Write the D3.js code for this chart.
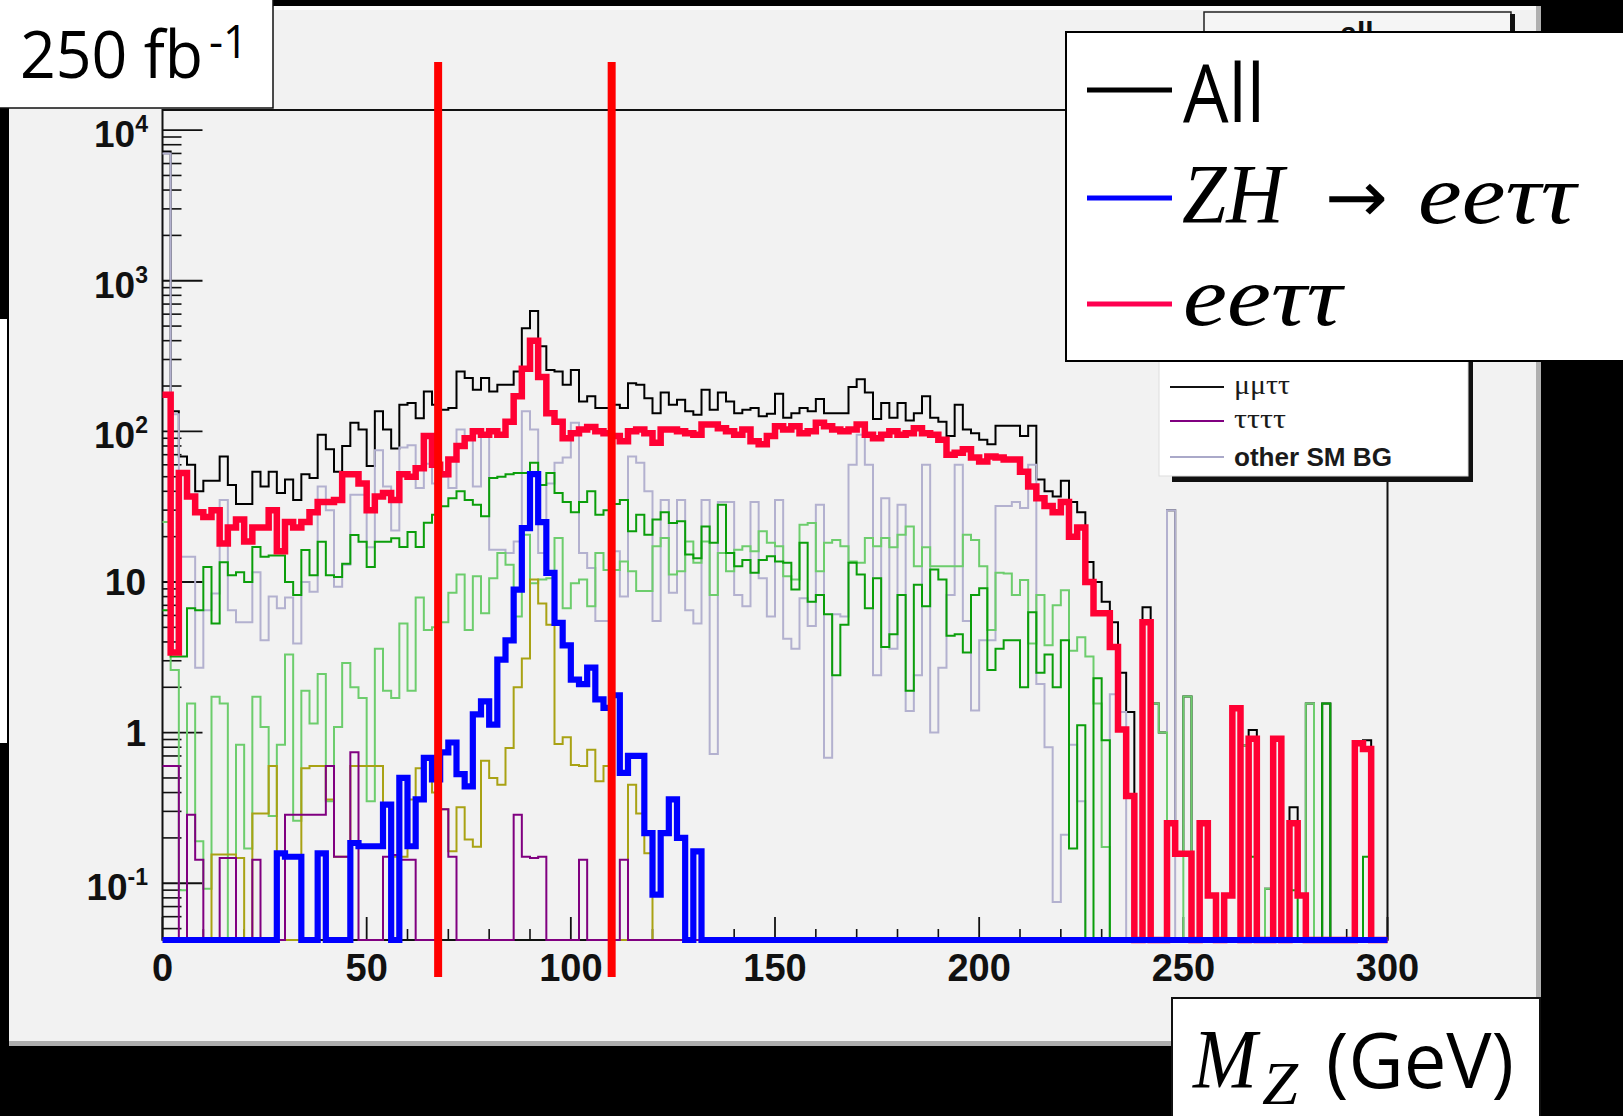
<!DOCTYPE html>
<html>
<head>
<meta charset="utf-8">
<script src="https://cdn.jsdelivr.net/npm/d3@7/dist/d3.min.js"></script>
<style>
html,body{margin:0;padding:0;background:#000;overflow:hidden;}
svg{display:block;}
</style>
</head>
<body>
<svg id="chart" width="1623" height="1116"></svg>
<script>
// ---------------- DATA (2 GeV bins, 0-300 GeV) ----------------
const BIN_W = 2;
const binLow = d3.range(0, 300, BIN_W);

const allBkg = [
 7200,136,68,60,40,47,47,68,44,33,
 33,54,43,54,39,48,35,52,49,95,
 76,54,80,114,103,59,136,103,77,150,
 154,122,184,150,139,143,250,226,189,226,
 184,204,204,250,484,630,368,256,250,204,
 256,158,171,143,143,150,143,209,204,166,
 132,181,150,162,136,129,189,139,181,158,
 132,139,143,126,131,178,123,132,143,136,
 164,132,132,132,197,222,181,121,154,123,
 154,118,132,171,123,116,93,150,103,97,
 88,82,109,109,109,93,109,48,40,37,
 47,34,29,13.6,10,7.4,5.4,2.5,1.37,0,
 6.8,1.56,1.0,30,0.16,1.74,0,0.25,0.083,0,
 0.083,1.45,0.82,1.04,0,0.092,0.91,0,0.32,0.083,
 1.56,0,1.56,0,0,0,0.85,0.89,0,0
];

const eett = [
 175,3.4,53,37,29,27,30,18,23,26,
 18.6,23,23,30,16,25,23,25,29,34,
 34,35,52,52,45,30,37,39,35,52,
 50,57,93,60,52,65,80,90,100,95,
 100,95,116,171,260,400,230,132,116,90,
 97,103,107,100,97,93,86,100,103,97,
 84,103,103,100,97,95,111,111,105,100,
 95,103,86,82,93,108,103,108,97,100,
 114,108,103,100,103,111,95,90,95,100,
 95,97,105,97,95,88,70,72,76,67,
 63,68,67,65,65,54,43,36,32,29,
 34,20,23,10,6.2,6.2,3.7,1.05,0.38,0,
 5.4,0,0,0.25,0.157,0.157,0,0.25,0.083,0,
 0.083,1.45,0,0.91,0,0,0.91,0,0.25,0.083,
 0,0,0,0,0,0,0.85,0.78,0,0
];

const zhEett = [
 0,0,0,0,0,0,0,0,0,0,
 0,0,0,0,0.158,0.15,0.15,0,0,0.158,
 0,0,0,0.185,0.176,0.176,0.176,0.333,0,0.5,
 0.176,0.36,0.68,0.49,0.74,0.86,0.53,0.44,1.32,1.61,
 1.13,3.05,4.1,8.9,22.8,52,25,11.5,5.35,3.8,
 2.25,2.1,2.7,1.66,1.46,1.77,0.54,0.7,0.7,0.215,
 0.084,0.215,0.36,0.2,0,0.163,0,0,0,0,
 0,0,0,0,0,0,0,0,0,0,
 0,0,0,0,0,0,0,0,0,0,
 0,0,0,0,0,0,0,0,0,0,
 0,0,0,0,0,0,0,0,0,0,
 0,0,0,0,0,0,0,0,0,0,
 0,0,0,0,0,0,0,0,0,0,
 0,0,0,0,0,0,0,0,0,0,
 0,0,0,0,0,0,0,0,0,0
];

const darkGreen = [
 6.5,3.2,3.2,6.7,6.5,12.6,5.3,13.5,11.1,11.6,
 10,17.1,14.7,15,15,10,8.2,16.3,11.1,18.5,
 11.1,10.8,13.2,20.5,18.5,12.6,18.5,18.5,19.5,17.1,
 21.5,17.1,24.7,28,31.8,36,40,35,32.6,27.3,
 49,50,52,53,53,62,44,53,39,34,
 29,34,40,28,30,33,35,21.7,28,20.6,
 26,29,24.6,25.3,15.2,14.4,23.4,18.2,32.6,15.6,
 12.7,14,11.5,14,14.8,13.7,13.4,8.9,18.2,7.4,
 8.2,6.1,2.4,5.2,13.4,11.2,6.7,10.6,3.7,4.5,
 8.2,1.9,9.6,6.9,12.1,10.4,4.4,4.5,3.4,8.2,
 9.1,2.6,3.6,4.1,4.1,2.0,6.3,2.5,3.3,2.0,
 4.1,0.17,1.12,0,2.3,0.89,0,0,0,0,
 0,0,0,0,0,0,0,0,0,0,
 0,0,0,0.15,0,0,0,0,0.09,0,
 0,0,1.56,0,0,0,0,0.15,0,0
];

const lightGreen = [
 25,2.6,0.09,1.56,0.19,0.092,1.73,1.56,0,0.83,
 0.17,1.73,1.09,0.28,0.83,3.3,0.26,1.9,1.15,2.45,
 0.35,1.09,2.9,2.0,1.7,0.35,3.6,1.9,1.7,5.3,
 1.9,7.9,4.8,5,5.4,8.5,11.2,4.8,10.9,6.2,
 10.6,15.6,13,5.9,20.6,9.8,10.4,10.6,19.6,6.7,
 9.8,10.4,6.9,15.6,12,12,13.7,11.8,8.7,8.7,
 17.3,19.6,11.2,11.8,18.6,13.4,18.6,8.2,15.6,11.8,
 16.4,17.3,16,21.7,18.2,17.3,10.9,10.4,24,24.6,
 11.8,18.2,19,17.3,13.7,13.4,19.6,17.3,19.6,17,
 20.6,23.4,12.7,17,12.7,12.7,12.7,12.7,20.6,19,
 12.7,4.8,11.5,11.4,8.2,10.3,3.9,8.2,3.8,7.0,
 8.8,3.5,4.3,3.2,1.56,0.174,0,0,0,0,
 0,1.56,1.0,0,0,1.74,0,0,0,0,
 0,0,0.82,0,0,0.092,0,0,0,0,
 1.56,0,0,0,0,0,0,0,0,0
];

const otherSM = [
 7000,130,14.7,14.7,2.7,6.5,8.4,35,6.5,5.4,
 5.4,11.6,4.1,8.0,6.7,7.9,3.9,10,8.6,43,
 30,9.3,13,38,38,17,75,43,22,78,
 81,42,61,45,50,42,103,88,43,97,
 16.4,16.4,15.6,18.6,136,103,15.6,45,62,67,
 114,15.6,12.4,5.5,5.5,16,8.0,68,62,40,
 5.5,35,8.5,35,6.5,5.3,35,0.72,34,34,
 8.2,6.9,34,10.6,5.9,35,4.2,3.6,7.8,5.1,
 32.6,0.68,6.1,5.9,60,95,60,2.4,36,3.6,
 32.6,1.39,2.4,60,1.0,2.7,8.2,60,5.5,1.4,
 4.1,4.1,32,32,34,31,60,2.1,0.8,0.075,
 0.21,0.83,0.35,0,0,0,1.8,1.37,0,0,
 0,0,0,30,0,0,0,0,0,0,
 0,0,0,0,0,0,0,0,0,0,
 0,0,0,0,0,0,0,0,0,0
];

const olive = [
 0,0,0,0,0,0,0.155,0.155,0.155,0.147,
 0,0.29,0.29,0.6,0,0,0,0.58,0.6,0.6,
 0.36,0.15,0.15,0.6,0.6,0.6,0.6,0.34,0.15,0.15,
 0.36,0.58,0.66,0.4,0.31,0.163,0.32,0.195,0.175,0.65,
 0.5,0.45,0.79,2.0,3.1,10.4,7.2,5.2,0.84,0.93,
 0.61,0.6,0.77,0.476,0.6,0,0,0.45,0.29,0.158,
 0,0,0,0,0,0,0,0,0,0,
 0,0,0,0,0,0,0,0,0,0,
 0,0,0,0,0,0,0,0,0,0,
 0,0,0,0,0,0,0,0,0,0,
 0,0,0,0,0,0,0,0,0,0,
 0,0,0,0,0,0,0,0,0,0,
 0,0,0,0,0,0,0,0,0,0,
 0,0,0,0,0,0,0,0,0,0,
 0,0,0,0,0,0,0,0,0,0
];

const tttt = [
 0.6,0.6,0,0.285,0.143,0,0,0.147,0.147,0,
 0,0.143,0,0,0,0.285,0.285,0.285,0.285,0.285,
 0.6,0.15,0.15,0.74,0,0,0,0.15,0.154,0.143,
 0.143,0,0,0,0.31,0.15,0,0,0,0,
 0,0,0,0.285,0.15,0.147,0.15,0,0,0,
 0,0.143,0,0,0,0,0.143,0,0,0,
 0,0,0,0,0,0,0,0,0,0,
 0,0,0,0,0,0,0,0,0,0,
 0,0,0,0,0,0,0,0,0,0,
 0,0,0,0,0,0,0,0,0,0,
 0,0,0,0,0,0,0,0,0,0,
 0,0,0,0,0,0,0,0,0,0,
 0,0,0,0,0,0,0,0,0,0,
 0,0,0,0,0,0,0,0,0,0,
 0,0,0,0,0,0,0,0,0,0
];

const cutValues = [67.5, 110];
const xMajorTicks = [0, 50, 100, 150, 200, 250, 300];
const xTickLabels = ["0", "50", "100", "150", "200", "250", "300"];
const yMajorTicks = [0.1, 1, 10, 100, 1000, 10000];
const yTickBase = ["10", "1", "10", "10", "10", "10"];
const yTickSup = ["-1", "", "", "2", "3", "4"];
const rootLegendLabels = ["\u03bc\u03bc\u03c4\u03c4", "\u03c4\u03c4\u03c4\u03c4", "other SM BG"];
const Y_MIN = 0.042, Y_MAX = 13600;

// ---------------- SCALES ----------------
const W = 1623, H = 1116;
const frame = {l: 162.5, r: 1387.5, t: 110, b: 940};
const x = d3.scaleLinear().domain([0, 300]).range([frame.l, frame.r]);
const y = d3.scaleLog().domain([Y_MIN, Y_MAX]).range([frame.b, frame.t]);

const svg = d3.select('#chart');
const FONT_CAL = "'Open Sans','Noto Sans',sans-serif";
const FONT_MATH = "'Liberation Serif','DejaVu Serif',serif";
const FONT_ROOT = "'Liberation Sans',Arial,sans-serif";

// ---------------- BACKGROUND ----------------
svg.append('rect').attr('width', W).attr('height', H).attr('fill', '#000');
svg.append('rect').attr('x', 9).attr('y', 6).attr('width', 1532).attr('height', 1040).attr('fill', '#f2f2f2');
svg.append('rect').attr('x', 9).attr('y', 6).attr('width', 1532).attr('height', 4).attr('fill', '#fbfbfb');
svg.append('rect').attr('x', 1536).attr('y', 6).attr('width', 5).attr('height', 1040).attr('fill', '#b0b0b0');
svg.append('rect').attr('x', 9).attr('y', 1041).attr('width', 1532).attr('height', 5).attr('fill', '#adadad');
svg.append('rect').attr('x', 0).attr('y', 319).attr('width', 7).attr('height', 424).attr('fill', '#fff');

// ---------------- FRAME & AXES ----------------
const g = svg.append('g');
g.append('rect').attr('x', frame.l).attr('y', frame.t)
  .attr('width', frame.r - frame.l).attr('height', frame.b - frame.t)
  .attr('fill', 'none').attr('stroke', '#111').attr('stroke-width', 2);

const yMinor = [];
for (let d = -2; d <= 4; d++) for (let m = 2; m <= 9; m++) {
  const v = m * Math.pow(10, d);
  if (v > Y_MIN && v < Y_MAX) yMinor.push(v);
}
g.selectAll('.ymin').data(yMinor).enter().append('line')
  .attr('x1', frame.l).attr('x2', frame.l + 19)
  .attr('y1', d => y(d)).attr('y2', d => y(d))
  .attr('stroke', '#111').attr('stroke-width', 1.6);
g.selectAll('.ymaj').data(yMajorTicks).enter().append('line')
  .attr('x1', frame.l).attr('x2', frame.l + 40)
  .attr('y1', d => y(d)).attr('y2', d => y(d))
  .attr('stroke', '#111').attr('stroke-width', 1.8);

const xMinor = d3.range(0, 301, 10).filter(v => v % 50 !== 0);
g.selectAll('.xmin').data(xMinor).enter().append('line')
  .attr('x1', d => x(d)).attr('x2', d => x(d))
  .attr('y1', frame.b).attr('y2', frame.b - 11)
  .attr('stroke', '#111').attr('stroke-width', 1.6);
g.selectAll('.xmaj').data(xMajorTicks).enter().append('line')
  .attr('x1', d => x(d)).attr('x2', d => x(d))
  .attr('y1', frame.b).attr('y2', frame.b - 23)
  .attr('stroke', '#111').attr('stroke-width', 1.8);

g.selectAll('.xlab').data(xMajorTicks).enter().append('text')
  .attr('x', d => x(d)).attr('y', 981)
  .attr('text-anchor', 'middle')
  .attr('font-family', FONT_ROOT).attr('font-weight', 'bold').attr('font-size', 38)
  .attr('fill', '#111')
  .text((d, i) => xTickLabels[i]);

yMajorTicks.forEach((v, i) => {
  const hasSup = yTickSup[i] !== "";
  const t = g.append('text')
    .attr('x', hasSup ? 148 : 146).attr('y', y(v) + (hasSup ? 17 : 13))
    .attr('text-anchor', 'end')
    .attr('font-family', FONT_ROOT).attr('font-weight', 'bold').attr('font-size', 37)
    .attr('fill', '#111');
  t.append('tspan').text(yTickBase[i]);
  if (hasSup) t.append('tspan').attr('font-size', 23).attr('dy', -15).text(yTickSup[i]);
});

// ---------------- HISTOGRAMS ----------------
function stepPoints(vals) {
  const pts = [];
  vals.forEach((v, i) => {
    const yy = y(Math.max(v, Y_MIN));
    pts.push([x(binLow[i]), yy], [x(binLow[i] + BIN_W), yy]);
  });
  return pts;
}
const line = d3.line();
const series = [
  {vals: allBkg,     color: '#000000', w: 2},
  {vals: otherSM,    color: '#b3b1cf', w: 2},
  {vals: lightGreen, color: '#6dcd6d', w: 2},
  {vals: darkGreen,  color: '#0b9e0b', w: 2},
  {vals: olive,      color: '#a9a214', w: 2},
  {vals: tttt,       color: '#800080', w: 2},
  {vals: eett,       color: '#ff0033', w: 6.5},
  {vals: zhEett,     color: '#0000ff', w: 6.2}
];
const hg = svg.append('g');
series.forEach(s => {
  hg.append('path').attr('d', line(stepPoints(s.vals)))
    .attr('fill', 'none').attr('stroke', s.color).attr('stroke-width', s.w)
    .attr('stroke-linejoin', 'miter');
});

svg.selectAll('.cut').data(cutValues).enter().append('line')
  .attr('x1', d => x(d)).attr('x2', d => x(d))
  .attr('y1', 62).attr('y2', 977)
  .attr('stroke', '#ff0000').attr('stroke-width', 8);

// ---------------- ROOT title box ----------------
svg.append('rect').attr('x', 1204).attr('y', 12).attr('width', 307).attr('height', 40)
  .attr('fill', '#f5f5f5').attr('stroke', '#222').attr('stroke-width', 1.5);
svg.append('rect').attr('x', 1510).attr('y', 14).attr('width', 5).attr('height', 40).attr('fill', '#111');
svg.append('text').attr('x', 1357).attr('y', 43).attr('text-anchor', 'middle')
  .attr('font-family', FONT_ROOT).attr('font-weight', 'bold').attr('font-size', 30)
  .attr('fill', '#111').text('all');

// ---------------- ROOT legend ----------------
svg.append('rect').attr('x', 1172).attr('y', 300).attr('width', 301).attr('height', 182).attr('fill', '#111');
svg.append('rect').attr('x', 1159).attr('y', 296).attr('width', 309).attr('height', 180)
  .attr('fill', '#fff').attr('stroke', '#ddd').attr('stroke-width', 1);
const rootLegColors = ['#111', '#800080', '#aaa9c9'];
const rootLegY = [387, 421, 457];
const rootLegW = [56, 52, 158];
rootLegendLabels.forEach((lab, i) => {
  svg.append('line').attr('x1', 1170).attr('x2', 1224).attr('y1', rootLegY[i]).attr('y2', rootLegY[i])
    .attr('stroke', rootLegColors[i]).attr('stroke-width', 2);
  const t = svg.append('text').attr('x', 1234).attr('fill', '#1a1a1a')
    .attr('textLength', rootLegW[i]).attr('lengthAdjust', 'spacingAndGlyphs').text(lab);
  if (i < 2) {
    t.attr('y', rootLegY[i] + 7).attr('font-family', FONT_MATH).attr('font-size', 27);
  } else {
    t.attr('y', rootLegY[i] + 9).attr('font-family', FONT_ROOT).attr('font-weight', 'bold')
      .attr('font-size', 25);
  }
});

// ---------------- Big legend ----------------
svg.append('rect').attr('x', 1066).attr('y', 32).attr('width', 570).attr('height', 329)
  .attr('fill', '#fff').attr('stroke', '#000').attr('stroke-width', 2);
const bigLeg = [
  {y: 90, color: '#000000'},
  {y: 198, color: '#0000ff'},
  {y: 304, color: '#ff0050'}
];
bigLeg.forEach(e => {
  svg.append('line').attr('x1', 1087).attr('x2', 1172).attr('y1', e.y).attr('y2', e.y)
    .attr('stroke', e.color).attr('stroke-width', 5);
});
svg.append('text').attr('x', 1183).attr('y', 122)
  .attr('font-family', FONT_CAL).attr('font-size', 80)
  .attr('textLength', 82).attr('lengthAdjust', 'spacingAndGlyphs').attr('fill', '#000').text('All');
svg.append('text').attr('x', 1182).attr('y', 223)
  .attr('font-family', FONT_MATH).attr('font-style', 'italic').attr('font-size', 84)
  .attr('textLength', 102).attr('lengthAdjust', 'spacingAndGlyphs').attr('fill', '#000').text('ZH');
svg.append('text').attr('x', 1325).attr('y', 222)
  .attr('font-family', "'DejaVu Sans',sans-serif").attr('font-size', 72)
  .attr('textLength', 63).attr('lengthAdjust', 'spacingAndGlyphs').attr('fill', '#000').text('\u2192');
svg.append('text').attr('x', 1418).attr('y', 223)
  .attr('font-family', FONT_MATH).attr('font-style', 'italic').attr('font-size', 84)
  .attr('textLength', 158).attr('lengthAdjust', 'spacingAndGlyphs').attr('fill', '#000').text('ee\u03c4\u03c4');
svg.append('text').attr('x', 1183).attr('y', 325)
  .attr('font-family', FONT_MATH).attr('font-style', 'italic').attr('font-size', 84)
  .attr('textLength', 159).attr('lengthAdjust', 'spacingAndGlyphs').attr('fill', '#000').text('ee\u03c4\u03c4');

// ---------------- 250 fb-1 box ----------------
svg.append('rect').attr('x', -2).attr('y', -2).attr('width', 275).attr('height', 110)
  .attr('fill', '#fff').attr('stroke', '#111').attr('stroke-width', 1.5);
svg.append('text').attr('x', 20).attr('y', 78)
  .attr('font-family', FONT_CAL).attr('font-size', 66)
  .attr('textLength', 183).attr('lengthAdjust', 'spacingAndGlyphs').attr('fill', '#000').text('250 fb');
svg.append('text').attr('x', 209).attr('y', 58)
  .attr('font-family', FONT_CAL).attr('font-size', 46)
  .attr('textLength', 39).attr('lengthAdjust', 'spacingAndGlyphs').attr('fill', '#000').text('-1');

// ---------------- M_Z (GeV) box ----------------
svg.append('rect').attr('x', 1172).attr('y', 998).attr('width', 368).attr('height', 122)
  .attr('fill', '#fff').attr('stroke', '#111').attr('stroke-width', 2);
svg.append('text').attr('x', 1193).attr('y', 1088)
  .attr('font-family', FONT_MATH).attr('font-style', 'italic').attr('font-size', 84)
  .attr('textLength', 64).attr('lengthAdjust', 'spacingAndGlyphs')
  .attr('fill', '#000').text('M');
svg.append('text').attr('x', 1262).attr('y', 1104)
  .attr('font-family', FONT_MATH).attr('font-style', 'italic').attr('font-size', 62)
  .attr('textLength', 36).attr('lengthAdjust', 'spacingAndGlyphs')
  .attr('fill', '#000').text('Z');
svg.append('text').attr('x', 1326).attr('y', 1088)
  .attr('font-family', FONT_CAL).attr('font-size', 76)
  .attr('textLength', 188).attr('lengthAdjust', 'spacingAndGlyphs').attr('fill', '#000').text('(GeV)');
</script>
</body>
</html>
